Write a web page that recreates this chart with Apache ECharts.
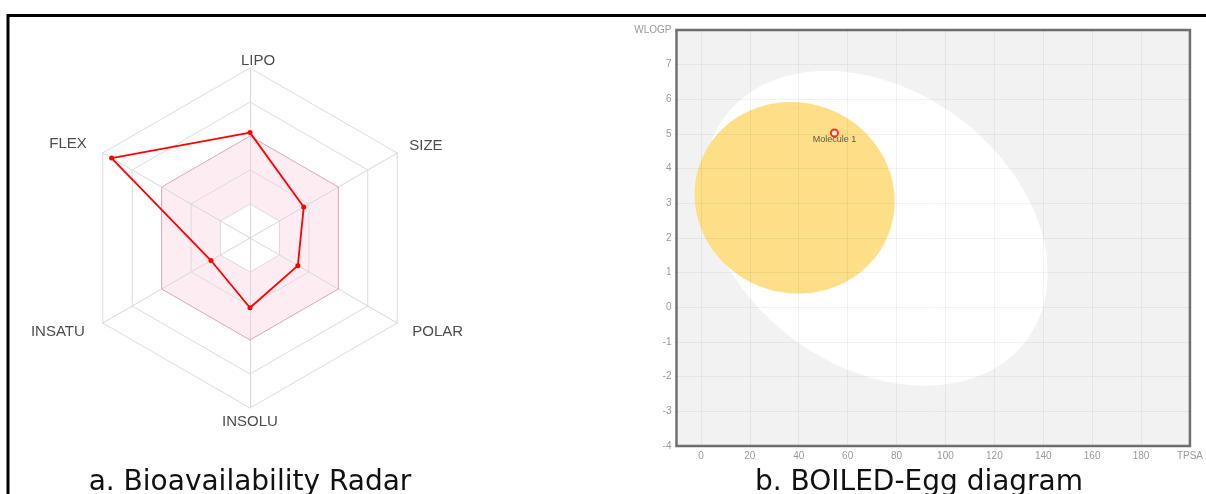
<!DOCTYPE html>
<html>
<head>
<meta charset="utf-8">
<script src="https://cdn.jsdelivr.net/npm/echarts@6/dist/echarts.min.js"></script>
<style>
html,body{margin:0;padding:0;background:#fff;}
#c{width:1206px;height:494px;}
</style>
</head>
<body>
<div id="c"></div>
<script>
// ---------- Bioavailability radar ----------
const radarAxes = ['LIPO', 'FLEX', 'INSATU', 'INSOLU', 'POLAR', 'SIZE'];
const radarValues = [0.62, 0.94, 0.265, 0.41, 0.325, 0.365];
const optimalUpper = [0.6, 0.6, 0.6, 0.6, 0.6, 0.6];

// ---------- BOILED-Egg ----------
const tpsaTicks = [0, 20, 40, 60, 80, 100, 120, 140, 160, 180, 200];
const wlogpTicks = [-4, -3, -2, -1, 0, 1, 2, 3, 4, 5, 6, 7, 8];
const xAxisTitle = 'TPSA';
const yAxisTitle = 'WLOGP';
// ellipse: [centre TPSA, centre WLOGP, semi-axis TPSA, semi-axis WLOGP, angle (rad, data space)]
const hiaEllipse = [71.5, 2.28, 70.3, 4.35, -0.0185];
const bbbEllipse = [38.3, 3.16, 40.9, 2.76, -0.0025];
const moleculeNames = ['Molecule 1'];
const moleculeTPSA = [54.6];
const moleculeWLOGP = [5.03];

const titleA = 'a. Bioavailability Radar';
const titleB = 'b. BOILED-Egg diagram';

const chart = echarts.init(document.getElementById('c'), null, {renderer: 'canvas'});

function ellipseItem(fill) {
  return function (params, api) {
    const cx = api.value(0), cy = api.value(1), a = api.value(2), b = api.value(3), th = api.value(4);
    const pts = [];
    const n = 180;
    for (let i = 0; i < n; i++) {
      const t = i / n * Math.PI * 2;
      const x = cx + a * Math.cos(th) * Math.cos(t) - b * Math.sin(th) * Math.sin(t);
      const y = cy + a * Math.sin(th) * Math.cos(t) + b * Math.cos(th) * Math.sin(t);
      pts.push(api.coord([x, y]));
    }
    return {type: 'polygon', shape: {points: pts}, style: {fill: fill}};
  };
}

const nameStyles = {
  LIPO:   {padding: [0, 0, 0, 16]},
  FLEX:   {padding: [0, 16, 19, 0]},
  INSATU: {padding: [17, 18, 0, 0]},
  INSOLU: {padding: [6, 0, 0, 0]},
  POLAR:  {padding: [17, 0, 0, 15]},
  SIZE:   {padding: [0, 0, 14, 12]}
};
const rich = {};
radarAxes.forEach(function (n) {
  rich[n] = Object.assign({color: '#4d4d4d', fontSize: 15, fontFamily: 'Liberation Sans'}, nameStyles[n]);
});

const option = {
  animation: false,
  backgroundColor: '#ffffff',
  radar: {
    center: [250, 238],
    radius: 170,
    startAngle: 90,
    splitNumber: 5,
    shape: 'polygon',
    axisNameGap: 0,
    indicator: radarAxes.map(function (n) { return {name: n, min: 0, max: 1}; }),
    axisName: {
      color: '#4d4d4d',
      fontSize: 15,
      fontFamily: 'Liberation Sans',
      formatter: function (name) { return '{' + name + '|' + name + '}'; },
      rich: rich
    },
    splitLine: {lineStyle: {color: '#dcdcdc', width: 1}},
    splitArea: {show: true, areaStyle: {color: ['#ffffff', '#fdedf2', '#fdedf2', '#ffffff', '#ffffff']}},
    axisLine: {lineStyle: {color: '#d8d8d8', width: 1}}
  },
  grid: {
    left: 676.5, top: 30, width: 514, height: 416,
    show: true, backgroundColor: '#f2f2f2', borderColor: '#707070', borderWidth: 2.5
  },
  xAxis: {
    type: 'value', min: -10, max: 200, z: 3,
    axisLine: {show: false}, axisTick: {show: false},
    axisLabel: {
      customValues: tpsaTicks,
      formatter: function (v) { return v === 200 ? xAxisTitle : String(v); },
      color: '#9a9a9a', fontSize: 10, fontFamily: 'Liberation Sans', margin: 5
    },
    splitLine: {show: false}
  },
  yAxis: {
    type: 'value', min: -4, max: 8, interval: 1, z: 3,
    axisLine: {show: false}, axisTick: {show: false},
    axisLabel: {
      formatter: function (v) { return v === 8 ? yAxisTitle : String(v); },
      color: '#9a9a9a', fontSize: 10, fontFamily: 'Liberation Sans', margin: 5
    },
    splitLine: {show: true, lineStyle: {color: 'rgba(0,0,0,0.05)', width: 1}}
  },
  series: [
    {
      type: 'radar',
      z: 2,
      silent: true,
      symbol: 'none',
      lineStyle: {color: 'rgba(225,140,165,0.6)', width: 1},
      data: [{value: optimalUpper, name: 'optimal'}]
    },
    {
      type: 'radar',
      z: 3,
      symbol: 'circle',
      symbolSize: 5,
      itemStyle: {color: '#ff0000'},
      lineStyle: {color: '#ff0000', width: 1.8},
      data: [{value: radarValues, name: 'Molecule 1'}]
    },
    {
      type: 'custom', z: 1, silent: true,
      renderItem: ellipseItem('#ffffff'),
      data: [hiaEllipse]
    },
    {
      type: 'custom', z: 2, silent: true,
      renderItem: ellipseItem('#fddf87'),
      data: [bbbEllipse]
    },
    {
      type: 'scatter', z: 3, silent: true,
      data: [],
      markLine: {
        silent: true, symbol: 'none', animation: false,
        label: {show: false},
        lineStyle: {color: 'rgba(0,0,0,0.05)', width: 1, type: 'solid'},
        data: tpsaTicks.slice(0, -1).map(function (v) { return {xAxis: v}; })
      }
    },
    {
      type: 'scatter', z: 5,
      symbol: 'circle', symbolSize: 7,
      itemStyle: {color: '#ffffff', borderColor: '#ff0000', borderWidth: 2},
      label: {
        show: true, position: 'inside', offset: [0, 7],
        formatter: function (p) { return p.name; },
        color: '#333', fontSize: 9, fontFamily: 'Liberation Sans'
      },
      data: moleculeNames.map(function (n, i) { return {name: n, value: [moleculeTPSA[i], moleculeWLOGP[i]]}; })
    }
  ],
  graphic: [
    {type: 'line', z: 100, shape: {x1: 8, y1: 15.5, x2: 1206, y2: 15.5}, style: {stroke: '#000', lineWidth: 3}},
    {type: 'line', z: 100, shape: {x1: 8, y1: 14, x2: 8, y2: 494}, style: {stroke: '#000', lineWidth: 3}},
    {type: 'text', z: 100, x: 250, y: 483, style: {text: titleA, font: '28px "DejaVu Sans"', fill: '#111', align: 'center', verticalAlign: 'middle'}},
    {type: 'text', z: 100, x: 919, y: 483, style: {text: titleB, font: '28px "DejaVu Sans"', fill: '#111', align: 'center', verticalAlign: 'middle'}}
  ]
};
chart.setOption(option);
</script>
</body>
</html>
